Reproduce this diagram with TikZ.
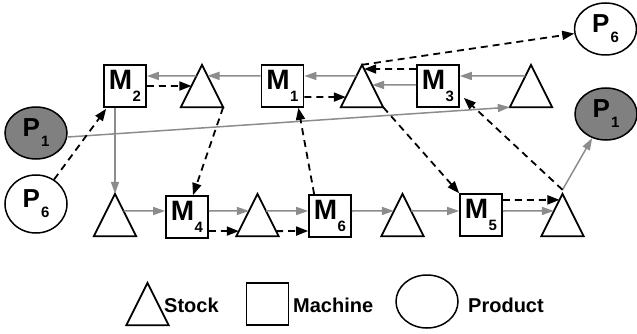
\documentclass[tikz,border=0pt]{standalone}
\usepackage{fontspec}
\setmainfont{Liberation Sans}
\usetikzlibrary{arrows.meta,shapes.geometric,calc}
\definecolor{linegray}{RGB}{140,140,140}
\definecolor{fillgray}{RGB}{128,128,128}
\newcommand{\MyMach}[1]{{\fontsize{28}{28}\selectfont\bfseries M}\kern0.5pt\raisebox{-11.5pt}{\fontsize{15}{15}\selectfont\bfseries #1}}
\newcommand{\MyProd}[1]{{\fontsize{26}{26}\selectfont\bfseries P}\kern1pt\raisebox{-10pt}{\fontsize{15}{15}\selectfont\bfseries #1}}
\begin{document}
\begin{tikzpicture}[x=1pt,y=-1pt,
  machine/.style={draw,line width=1.7pt,minimum width=42pt,minimum height=42pt,inner sep=0pt},
  stock/.style={minimum width=42pt,minimum height=42pt,inner sep=0pt},
  stockline/.style={draw,line width=1.8pt,line join=miter},
  product/.style={draw,ellipse,line width=1.5pt,minimum width=62pt,minimum height=52pt,inner sep=0pt},
  flow/.style={draw=linegray,line width=1.5pt,-{Triangle[length=12pt,width=8pt]}},
  info/.style={draw=black,line width=1.8pt,dash pattern=on 7pt off 5pt,-{Triangle[length=12pt,width=9pt]}},
  legtext/.style={font=\fontsize{20}{20}\selectfont\bfseries,anchor=base west,inner sep=0pt}
]
\useasboundingbox (0,0) rectangle (637,334);

% machines
\node[machine] (m2) at (125,86) {\MyMach{2}};
\node[machine] (m1) at (282.5,86) {\MyMach{1}};
\node[machine] (m3) at (438,86) {\MyMach{3}};
\node[machine] (m4) at (187,217) {\MyMach{4}};
\node[machine] (m6) at (330,216) {\MyMach{6}};
\node[machine] (m5) at (481,215) {\MyMach{5}};

% stocks
\node[stock] (t1) at (202,86) {};
\node[stock] (t2) at (362,86) {};
\node[stock] (t3) at (531,86) {};
\node[stock] (t4) at (115,215) {};
\node[stock] (t5) at (257.5,215) {};
\node[stock] (t6) at (402.5,215) {};
\node[stock] (t7) at (562.5,215) {};
\foreach \t in {t1,t2,t3,t4,t5,t6,t7}
  \draw[stockline] (\t.south west) -- (\t.north) -- (\t.south east) -- cycle;

% products
\node[product,fill=fillgray] (p1l) at (36,133) {\MyProd{1}};
\node[product,minimum height=58pt] (p6l) at (36,204) {\MyProd{6}};
\node[product] (p6r) at (605.5,29) {\MyProd{6}};
\node[product,fill=fillgray] (p1r) at (606,114) {\MyProd{1}};

% material flow (gray)
\draw[flow] ($(t1.north)!0.26!(t1.south west)$) -- ($(m2.east)+(0,-10)$);
\draw[flow] ($(m1.west)+(0,-10)$) -- ($(t1.north)!0.26!(t1.south east)$);
\draw[flow] ($(t2.north)!0.26!(t2.south west)$) -- ($(m1.east)+(0,-10)$);
\draw[flow] ($(m3.west)+(0,-1)$) -- ($(t2.north)!0.476!(t2.south east)$);
\draw[flow] ($(t3.north)!0.26!(t3.south west)$) -- ($(m3.east)+(0,-10)$);
\draw[flow] ($(p1l.east)+(0,4)$) -- (t3.south west);
\draw[flow] ($(m2.south)+(-10,0)$) -- (t4.north);
\draw[flow] ($(t4.north)!0.405!(t4.south east)$) -- ($(m4.west)+(0,-6)$);
\draw[flow] ($(m4.east)+(0,-6)$) -- ($(t5.north)!0.405!(t5.south west)$);
\draw[flow] ($(t5.north)!0.405!(t5.south east)$) -- ($(m6.west)+(0,-5)$);
\draw[flow] ($(m6.east)+(0,-5)$) -- ($(t6.north)!0.405!(t6.south west)$);
\draw[flow] ($(t6.north)!0.405!(t6.south east)$) -- ($(m5.west)+(0,-4)$);
\draw[flow] ($(m5.east)+(0,-4)$) -- ($(t7.north)!0.405!(t7.south west)$);
\draw[flow] ($(t7.north)+(0,-4)$) -- (p1r);

% information flow (dashed)
\draw[info] (p6l) -- ($(m2.south west)+(3,1)$);
\draw[info] (m2.east) -- ($(t1.north)!0.5!(t1.south west)$);
\draw[info] (t1.south east) -- ($(m4.north)+(6,0)$);
\draw[info] ($(m1.east)+(0,11)$) -- ($(t2.north)!0.762!(t2.south west)$);
\draw[info] ($(m6.north west)+(6,0)$) -- ($(m1.south east)+(-6,0)$);
\draw[info] ($(m3.west)+(0,-17)$) -- ($(t2.north)!0.1!(t2.south east)$);
\draw[info] (t2.north) -- (p6r);
\draw[info] (t2.south east) -- (m5.north west);
\draw[info] ($(t7.north)+(0,-4)$) -- ($(m3.south east)+(4,-10)$);
\draw[info] ($(m4.east)+(0,14)$) -- ($(t5.north)!0.881!(t5.south west)$);
\draw[info] ($(t5.north)!0.881!(t5.south east)$) -- ($(m6.west)+(0,15)$);
\draw[info] ($(m5.east)+(0,-15)$) -- ($(t7.north)!0.143!(t7.south west)$);

% legend
\node[stock] (lt) at (147.5,304) {};
\draw[stockline] (lt.south west) -- (lt.north) -- (lt.south east) -- cycle;
\node[machine] (lm) at (267.5,304) {};
\node[product,minimum height=53pt] (lp) at (427,301.5) {};
\node[legtext] (ls) at (164,312) {Stock};
\node[legtext] (lmt) at (293,312) {Machine};
\node[legtext] (lpt) at (468,312) {Product};
\end{tikzpicture}
\end{document}
